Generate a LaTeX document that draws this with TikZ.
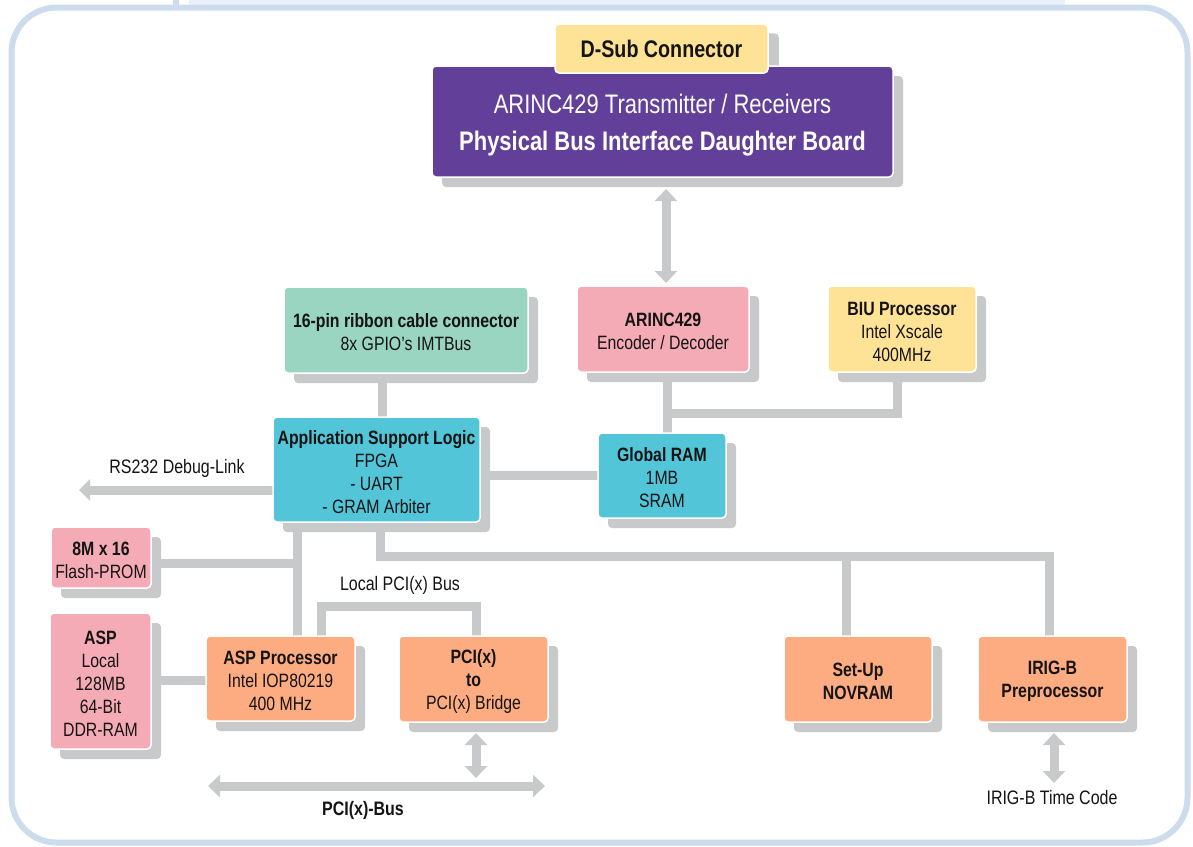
\documentclass[tikz,border=0pt]{standalone}
\usepackage{fontspec}
\setmainfont[FakeStretch=0.82]{Liberation Sans}
\usetikzlibrary{arrows.meta,shadows,backgrounds}
\definecolor{conn}{HTML}{C8C9CB}
\definecolor{framec}{HTML}{CDDCEC}
\definecolor{stripc}{HTML}{EAF0F8}
\definecolor{yel}{HTML}{FEE397}
\definecolor{purp}{HTML}{623F98}
\definecolor{pink}{HTML}{F5ABB6}
\definecolor{mint}{HTML}{99D5C0}
\definecolor{cyanb}{HTML}{53C5D8}
\definecolor{orng}{HTML}{FDAB80}
\definecolor{txt}{HTML}{141414}
\newcommand\fst{\rule{0pt}{18.5pt}}
\newcommand\fstb{\rule{0pt}{26pt}}
\begin{document}
\begin{tikzpicture}[x=1pt,y=-1pt,
  base/.style={rounded corners=4pt, draw=white, line width=1.5pt, align=center,
    inner sep=0pt, text=txt, font=\fontsize{19.3}{23}\selectfont},
  blk/.style={base,
    general shadow={draw=none, fill=conn, shadow xshift=10pt, shadow yshift=-10pt}},
  wire/.style={draw=conn, line width=9pt},
  tipx/.tip={Triangle[width=22pt,length=12pt]},
  dbl/.style={draw=conn, line width=9pt, tipx-tipx},
  lbl/.style={font=\fontsize{19.5}{23}\selectfont, text=txt, inner sep=0pt}]
\useasboundingbox (0,0) rectangle (1193,846);

% nodes
\node[blk, fill=purp, text=white, minimum width=461pt, minimum height=111pt,
  font=\fontsize{26.8}{37}\selectfont] (phys) at (662.5,121.5)
  {\fstb ARINC429 Transmitter / Receivers\\\textbf{Physical Bus Interface Daughter Board}};
\node[base, fill=yel, minimum width=213pt, minimum height=49pt,
  font=\fontsize{24}{28}\selectfont\bfseries] (dsub) at (661.5,48.5) {D-Sub Connector};

\node[blk, fill=pink, minimum width=172pt, minimum height=86pt] (arinc) at (663,329)
  {\fst\textbf{ARINC429}\\Encoder / Decoder};
\node[blk, fill=yel, minimum width=148pt, minimum height=86pt] (biu) at (902,329)
  {\fst\textbf{BIU Processor}\\Intel Xscale\\400MHz};
\node[blk, fill=mint, minimum width=244pt, minimum height=86pt] (ribbon) at (406,330)
  {\fst\textbf{16-pin ribbon cable connector}\\8x GPIO’s IMTBus};
\node[blk, fill=cyanb, minimum width=207pt, minimum height=105pt] (asl) at (376.5,469.5)
  {\fst\textbf{Application Support Logic}\\FPGA\\- UART\\- GRAM Arbiter};
\node[blk, fill=cyanb, minimum width=128pt, minimum height=85pt] (gram) at (662,475.5)
  {\fst\textbf{Global RAM}\\1MB\\SRAM};
\node[blk, fill=pink, minimum width=100pt, minimum height=61pt] (flash) at (101,557.5)
  {\fst\textbf{8M x 16}\\Flash-PROM};
\node[blk, fill=pink, minimum width=101pt, minimum height=136pt] (asp) at (100.5,681)
  {\fst\textbf{ASP}\\Local\\128MB\\64-Bit\\DDR-RAM};
\node[blk, fill=orng, minimum width=149pt, minimum height=85pt] (aspproc) at (280.5,678.5)
  {\fst\textbf{ASP Processor}\\Intel IOP80219\\400 MHz};
\node[blk, fill=orng, minimum width=149pt, minimum height=86pt] (pcib) at (473.5,679)
  {\fst\textbf{PCI(x)}\\\textbf{to}\\PCI(x) Bridge};
\node[blk, fill=orng, minimum width=148pt, minimum height=86pt] (setup) at (858,679)
  {\fst\textbf{Set-Up}\\\textbf{NOVRAM}};
\node[blk, fill=orng, minimum width=149pt, minimum height=86pt] (irig) at (1052.5,679)
  {\fst\textbf{IRIG-B}\\\textbf{Preprocessor}};

% labels
\node[lbl] (rslbl) at (177,468) {RS232 Debug-Link};
\node[lbl] (lpcilbl) at (400,585) {Local PCI(x) Bus};
\node[lbl] (pcibuslbl) at (363,810) {\textbf{PCI(x)-Bus}};
\node[lbl] (tclbl) at (1052,798) {IRIG-B Time Code};

% free ends and junctions
\coordinate (physA) at (666,189);
\coordinate (arincA) at (666,283);
\coordinate (j1) at (667,413);
\coordinate (j2) at (897,413);
\coordinate (rsend) at (79,490);
\coordinate (fj) at (297,563);
\coordinate (lp1) at (321,606);
\coordinate (lp2) at (476,606);
\coordinate (pciA) at (476,733);
\coordinate (pciB) at (476,778);
\coordinate (busL) at (208,786);
\coordinate (busR) at (545,786);
\coordinate (b1) at (380,556);
\coordinate (b2) at (1049,556);
\coordinate (b3) at (846,556);
\coordinate (irigA) at (1054,733);
\coordinate (irigB) at (1054,783);

\begin{scope}[on background layer]
  % frame
  \fill[stripc] (189,0) rectangle (1065,5);
  \draw[framec, line width=6pt] (176,0) -- (176,8);
  \draw[framec, line width=6pt, rounded corners=45pt] (11.5,7.5) rectangle (1187.5,842.5);
  % connectors
  \draw[dbl] (physA) -- (arincA);
  \draw[wire] (667,0 |- arinc.center) -- (667,0 |- gram.center);
  \draw[wire] (j1) -- (j2) -- (j2 |- biu.center);
  \draw[wire] (asl.center |- 0,475) -- (gram.center |- 0,475);
  \draw[wire] (382,0 |- ribbon.center) -- (382,0 |- asl.center);
  \draw[wire, -{Triangle[width=21pt,length=11pt]}] (asl.center |- rsend) -- (rsend);
  \draw[wire] (297,0 |- asl.center) -- (297,0 |- aspproc.center);
  \draw[wire] (flash.center |- fj) -- (fj);
  \draw[wire] (asp.center |- 0,680) -- (aspproc.center |- 0,680);
  \draw[wire] (lp1 |- aspproc.center) -- (lp1) -- (lp2) -- (lp2 |- pcib.center);
  \draw[dbl] (pciA) -- (pciB);
  \draw[dbl] (busL) -- (busR);
  \draw[wire] (b1 |- asl.center) -- (b1) -- (b2) -- (b2 |- irig.center);
  \draw[wire] (b3) -- (b3 |- setup.center);
  \draw[dbl] (irigA) -- (irigB);
  % D-Sub shadow (behind the purple board)
  \fill[conn, rounded corners=4pt] ([shift={(10,10)}]dsub.south west) rectangle ([shift={(10,10)}]dsub.north east);
\end{scope}
\end{tikzpicture}
\end{document}
